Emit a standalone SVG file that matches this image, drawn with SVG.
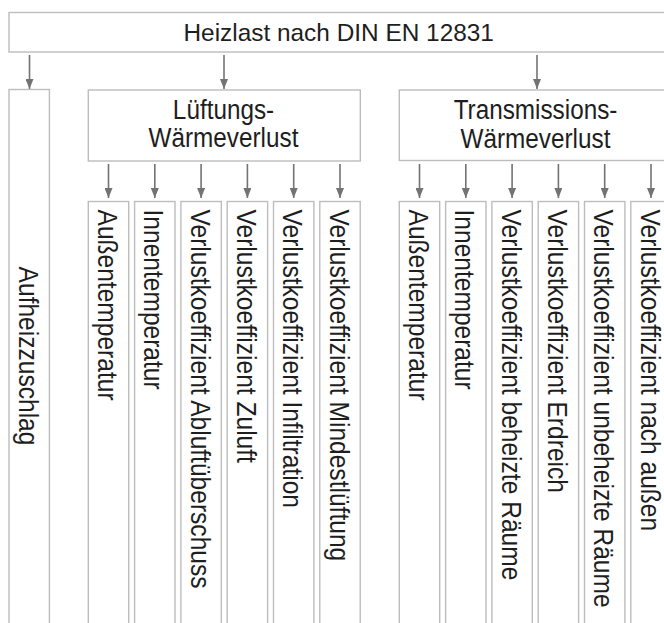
<svg xmlns="http://www.w3.org/2000/svg" width="664" height="623" viewBox="0 0 664 623">
  <style>
    .box { fill: #ffffff; stroke: #bdbdbd; stroke-width: 1.4; }
    .lbl { font-family: "Liberation Sans", Arial, sans-serif; fill: #1e1e1e; }
    .head { font-size: 24.4px; text-anchor: middle; }
    .mid { font-size: 27px; text-anchor: middle; }
    .col { font-size: 27px; }
    .arr { stroke: #737373; stroke-width: 1.6; fill: none; marker-end: url(#tip); }
  </style>
  <defs>
    <marker id="tip" viewBox="0 0 10 8" refX="10" refY="4" markerWidth="10" markerHeight="8" markerUnits="userSpaceOnUse" orient="auto">
      <path d="M0,0 L10,4 L0,8 z" fill="#737373"/>
    </marker>
  </defs>

  <!-- top level -->
  <g id="heizlast">
    <rect class="box" x="9" y="12.5" width="665" height="39.5"/>
    <text class="lbl head" x="338.7" y="40.7">Heizlast nach DIN EN 12831</text>
  </g>

  <g id="aufheizzuschlag">
    <rect class="box" x="9" y="89.5" width="40.4" height="550"/>
    <text class="lbl col" text-anchor="middle" transform="translate(18.8,356) rotate(90) scale(0.91,1)">Aufheizzuschlag</text>
  </g>

  <g id="lueftung">
    <rect class="box" x="88.3" y="90" width="272" height="71"/>
    <text class="lbl mid" transform="translate(223.5,119.3) scale(0.9,1)">Lüftungs-</text>
    <text class="lbl mid" transform="translate(223.5,147.3) scale(0.9,1)">Wärmeverlust</text>
  </g>

  <g id="transmission">
    <rect class="box" x="399.3" y="90" width="272" height="70.5"/>
    <text class="lbl mid" transform="translate(535.5,119) scale(0.9,1)">Transmissions-</text>
    <text class="lbl mid" transform="translate(535.5,147.5) scale(0.9,1)">Wärmeverlust</text>
  </g>

  <!-- ventilation loss inputs -->
  <g id="l-aussen">
    <rect class="box" x="88.3" y="201.5" width="40.4" height="440"/>
    <text class="lbl col" transform="translate(98.1,209.5) rotate(90) scale(0.91,1)">Außentemperatur</text>
  </g>
  <g id="l-innen">
    <rect class="box" x="134.6" y="201.5" width="40.4" height="440"/>
    <text class="lbl col" transform="translate(144.4,209.5) rotate(90) scale(0.91,1)">Innentemperatur</text>
  </g>
  <g id="l-abluft">
    <rect class="box" x="180.9" y="201.5" width="40.4" height="440"/>
    <text class="lbl col" transform="translate(190.7,209.5) rotate(90) scale(0.91,1)">Verlustkoeffizient Abluftüberschuss</text>
  </g>
  <g id="l-zuluft">
    <rect class="box" x="227.2" y="201.5" width="40.4" height="440"/>
    <text class="lbl col" transform="translate(237,209.5) rotate(90) scale(0.91,1)">Verlustkoeffizient Zuluft</text>
  </g>
  <g id="l-infiltration">
    <rect class="box" x="273.5" y="201.5" width="40.4" height="440"/>
    <text class="lbl col" transform="translate(283.3,209.5) rotate(90) scale(0.91,1)">Verlustkoeffizient Infiltration</text>
  </g>
  <g id="l-mindest">
    <rect class="box" x="319.8" y="201.5" width="40.4" height="440"/>
    <text class="lbl col" transform="translate(329.6,209.5) rotate(90) scale(0.91,1)">Verlustkoeffizient Mindestlüftung</text>
  </g>

  <!-- transmission loss inputs -->
  <g id="t-aussen">
    <rect class="box" x="399.3" y="201.5" width="40.4" height="440"/>
    <text class="lbl col" transform="translate(409.1,209.5) rotate(90) scale(0.91,1)">Außentemperatur</text>
  </g>
  <g id="t-innen">
    <rect class="box" x="445.6" y="201.5" width="40.4" height="440"/>
    <text class="lbl col" transform="translate(455.4,209.5) rotate(90) scale(0.91,1)">Innentemperatur</text>
  </g>
  <g id="t-beheizt">
    <rect class="box" x="491.9" y="201.5" width="40.4" height="440"/>
    <text class="lbl col" transform="translate(501.7,209.5) rotate(90) scale(0.91,1)">Verlustkoeffizient beheizte Räume</text>
  </g>
  <g id="t-erdreich">
    <rect class="box" x="538.2" y="201.5" width="40.4" height="440"/>
    <text class="lbl col" transform="translate(548,209.5) rotate(90) scale(0.91,1)">Verlustkoeffizient Erdreich</text>
  </g>
  <g id="t-unbeheizt">
    <rect class="box" x="584.5" y="201.5" width="40.4" height="440"/>
    <text class="lbl col" transform="translate(594.3,209.5) rotate(90) scale(0.91,1)">Verlustkoeffizient unbeheizte Räume</text>
  </g>
  <g id="t-aussen2">
    <rect class="box" x="630.8" y="201.5" width="40.4" height="440"/>
    <text class="lbl col" transform="translate(640.6,209.5) rotate(90) scale(0.91,1)">Verlustkoeffizient nach außen</text>
  </g>

  <!-- connectors -->
  <g id="connectors">
    <line class="arr" x1="29.5" y1="55" x2="29.5" y2="89"/>
    <line class="arr" x1="224" y1="55" x2="224" y2="89"/>
    <line class="arr" x1="537" y1="55" x2="537" y2="89"/>

    <line class="arr" x1="108.5" y1="164" x2="108.5" y2="198"/>
    <line class="arr" x1="154.8" y1="164" x2="154.8" y2="198"/>
    <line class="arr" x1="201.1" y1="164" x2="201.1" y2="198"/>
    <line class="arr" x1="247.4" y1="164" x2="247.4" y2="198"/>
    <line class="arr" x1="293.7" y1="164" x2="293.7" y2="198"/>
    <line class="arr" x1="340" y1="164" x2="340" y2="198"/>

    <line class="arr" x1="419.5" y1="164" x2="419.5" y2="198"/>
    <line class="arr" x1="465.8" y1="164" x2="465.8" y2="198"/>
    <line class="arr" x1="512.1" y1="164" x2="512.1" y2="198"/>
    <line class="arr" x1="558.4" y1="164" x2="558.4" y2="198"/>
    <line class="arr" x1="604.7" y1="164" x2="604.7" y2="198"/>
    <line class="arr" x1="651" y1="164" x2="651" y2="198"/>
  </g>
</svg>
